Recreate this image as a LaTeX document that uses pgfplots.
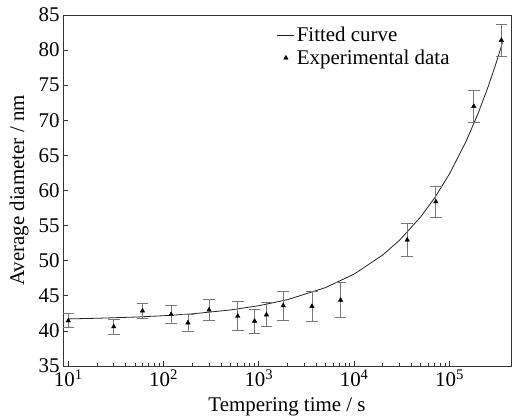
\documentclass[border=0pt]{standalone}
\usepackage{pgfplots}
\pgfplotsset{compat=1.18}
\usepackage{fontspec}
\setmainfont{Liberation Serif}
\definecolor{framec}{HTML}{333333}
\definecolor{errc}{HTML}{777777}
\definecolor{curvec}{HTML}{222222}
\begin{document}
\begin{tikzpicture}[font=\fontsize{21}{23}\selectfont]
\begin{axis}[
  at={(0,0)}, anchor=south west,
  scale only axis, width=448bp, height=351bp,
  xmode=log, xmin=8.8, xmax=4.42e5,
  ymin=35, ymax=85,
  xtick={10,100,1000,10000,100000},
  xticklabels={10\textsuperscript{1},10\textsuperscript{2},10\textsuperscript{3},10\textsuperscript{4},10\textsuperscript{5}},
  minor xtick={},
  ytick={35,40,...,85},
  /pgf/number format/assume math mode=true,
  tick align=inside, xtick pos=bottom, ytick pos=left,
  major tick length=5bp,
  axis line style={framec, line width=0.9bp},
  tick style={framec, line width=0.8bp},
  xlabel={Tempering time / s},
  ylabel={Average diameter / nm},
  xlabel style={yshift=-4bp},
  ylabel style={yshift=3bp},
  legend style={at={(rel axis cs:0.475,0.975)}, anchor=north west, draw=none, fill=none, inner sep=1bp, row sep=3bp, cells={anchor=west}},
  legend cell align=left,
]
\addplot[curvec, line width=0.8bp] coordinates {
 (10,41.71) (20,41.80) (50,41.97) (100,42.16) (200,42.43) (500,42.98)
 (1000,43.59) (2000,44.45) (5000,46.17) (10000,48.10) (20000,50.83)
 (30000,52.93) (50000,56.26) (70000,58.96) (100000,62.37) (150000,67.06)
 (200000,71.02) (250000,74.50) (300000,77.65) (340000,79.98) (360000,81.10)
};
\addlegendentry{Fitted curve}
\addplot[only marks, mark=triangle*, mark size=2.6bp, black,
  error bars/.cd, y dir=both, y explicit,
  error bar style={errc, line width=0.8bp},
  error mark options={errc, rotate=90, mark size=5.8bp, line width=0.8bp}]
 table[x=x, y=y, y error=e] {
x y e
10 41.45 1.0
30 40.6 1.1
60 42.85 1.1
120 42.35 1.25
180 41.15 1.2
300 43.0 1.5
600 42.1 2.05
900 41.4 1.7
1200 42.3 1.7
1800 43.6 2.05
3600 43.5 2.1
7200 44.4 2.45
36000 52.95 2.3
72000 58.4 2.2
180000 72.0 2.3
350000 81.4 2.3
};
\addlegendentry{Experimental data}
\end{axis}
\path[use as bounding box] (-63bp,-53bp) rectangle (449bp,366bp);
\end{tikzpicture}
\end{document}
